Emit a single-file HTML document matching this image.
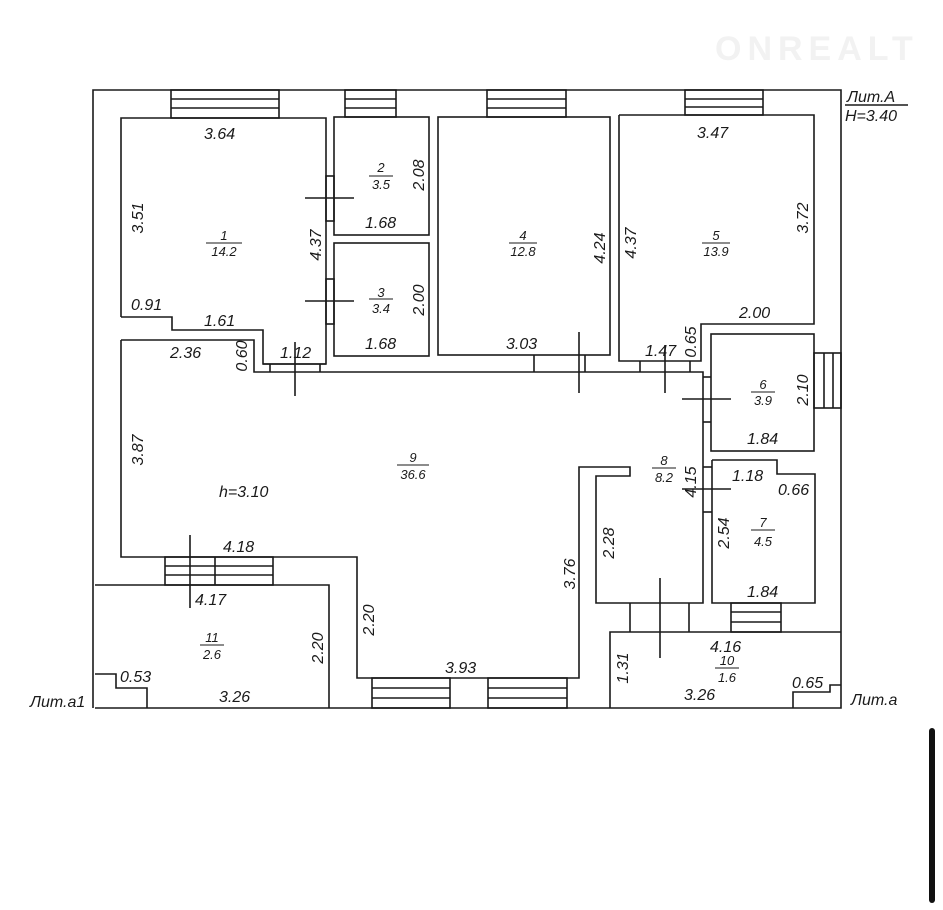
<!DOCTYPE html>
<html><head><meta charset="utf-8"><style>
html,body{margin:0;padding:0;background:#fff}
svg{display:block}
text{font-family:"Liberation Sans","DejaVu Sans",sans-serif;font-style:italic;font-size:16px;fill:#1a1a1a}
.s{font-size:13px}
</style></head><body>
<svg width="943" height="910" viewBox="0 0 943 910" xmlns="http://www.w3.org/2000/svg">
<g fill="none" stroke="#1a1a1a" stroke-width="1.6">
<!-- outer -->
<polyline points="93,708 93,90 841,90 841,708 95,708"/>
<!-- room 1 -->
<polyline points="121,317 121,118 326,118 326,364 263,364 263,330 172,330 172,317 121,317"/>
<!-- window room1 -->
<rect x="171" y="90" width="108" height="28"/><line x1="171" y1="99" x2="279" y2="99"/><line x1="171" y1="108" x2="279" y2="108"/>
<!-- room 2,3 -->
<rect x="334" y="117" width="95" height="118"/>
<rect x="334" y="243" width="95" height="113"/>
<rect x="345" y="90" width="51" height="27"/><line x1="345" y1="99" x2="396" y2="99"/><line x1="345" y1="108" x2="396" y2="108"/>
<!-- doors between 1 and 2/3 -->
<rect x="326" y="176" width="8" height="45"/><rect x="326" y="279" width="8" height="45"/>
<line x1="305" y1="198" x2="354" y2="198"/><line x1="305" y1="301" x2="354" y2="301"/>
<!-- room 4 -->
<rect x="438" y="117" width="172" height="238"/>
<rect x="487" y="90" width="79" height="27"/><line x1="487" y1="99" x2="566" y2="99"/><line x1="487" y1="108" x2="566" y2="108"/>
<!-- room 5 -->
<polyline points="619,115 814,115 814,324 701,324 701,361 619,361 619,115"/>
<rect x="685" y="90" width="78" height="25"/><line x1="685" y1="99" x2="763" y2="99"/><line x1="685" y1="107" x2="763" y2="107"/>
<!-- hall 9 -->
<polyline points="121,340 121,557 357,557 357,678 579,678 579,467 630,467 630,476 596,476 596,603 703,603 703,372 254,372 254,340 121,340"/>
<!-- door 1->hall -->
<line x1="263" y1="364" x2="326" y2="364"/><line x1="270" y1="364" x2="270" y2="372"/><line x1="320" y1="364" x2="320" y2="372"/>
<line x1="295" y1="342" x2="295" y2="396"/>
<!-- door 4 -->
<line x1="534" y1="355" x2="534" y2="372"/><line x1="585" y1="355" x2="585" y2="372"/><line x1="579" y1="332" x2="579" y2="393"/>
<!-- door 5 -->
<line x1="640" y1="361" x2="640" y2="372"/><line x1="690" y1="361" x2="690" y2="372"/><line x1="665" y1="345" x2="665" y2="393"/>
<!-- room 6 -->
<rect x="711" y="334" width="103" height="117"/>
<line x1="703" y1="377" x2="711" y2="377"/><line x1="703" y1="422" x2="711" y2="422"/><line x1="682" y1="399" x2="731" y2="399"/>
<rect x="814" y="353" width="27" height="55"/><line x1="824" y1="353" x2="824" y2="408"/><line x1="833" y1="353" x2="833" y2="408"/>
<!-- room 7 -->
<polyline points="712,460 777,460 777,474 815,474 815,603 712,603 712,460"/>
<line x1="703" y1="467" x2="712" y2="467"/><line x1="703" y1="512" x2="712" y2="512"/><line x1="682" y1="489" x2="731" y2="489"/>
<rect x="731" y="603" width="50" height="29"/><line x1="731" y1="612" x2="781" y2="612"/><line x1="731" y1="622" x2="781" y2="622"/>
<!-- door 8->10 -->
<line x1="630" y1="603" x2="630" y2="632"/><line x1="689" y1="603" x2="689" y2="632"/><line x1="660" y1="578" x2="660" y2="658"/>
<!-- room 10 -->
<polyline points="610,708 610,632 841,632"/>
<polyline points="793,708 793,692 830,692 830,685 841,685"/>
<!-- room 11 -->
<polyline points="95,585 329,585 329,708"/>
<polyline points="95,674 116,674 116,688 147,688 147,708"/>
<rect x="165" y="557" width="108" height="28"/><line x1="215" y1="557" x2="215" y2="585"/><line x1="165" y1="566" x2="273" y2="566"/><line x1="165" y1="575" x2="273" y2="575"/>
<line x1="190" y1="535" x2="190" y2="608"/>
<!-- bottom windows -->
<rect x="372" y="678" width="78" height="30"/><line x1="372" y1="688" x2="450" y2="688"/><line x1="372" y1="698" x2="450" y2="698"/>
<rect x="488" y="678" width="79" height="30"/><line x1="488" y1="688" x2="567" y2="688"/><line x1="488" y1="698" x2="567" y2="698"/>
<!-- lit lines -->
<line x1="845" y1="105" x2="908" y2="105"/>
</g>
<!-- room labels -->
<g text-anchor="middle">
<text x="224" y="240" class="s">1</text><line x1="206" y1="243" x2="242" y2="243" stroke="#1a1a1a"/><text x="224" y="256" class="s">14.2</text>
<text x="381" y="172" class="s">2</text><line x1="369" y1="176" x2="393" y2="176" stroke="#1a1a1a"/><text x="381" y="189" class="s">3.5</text>
<text x="381" y="297" class="s">3</text><line x1="369" y1="299" x2="393" y2="299" stroke="#1a1a1a"/><text x="381" y="313" class="s">3.4</text>
<text x="523" y="240" class="s">4</text><line x1="509" y1="243" x2="537" y2="243" stroke="#1a1a1a"/><text x="523" y="256" class="s">12.8</text>
<text x="716" y="240" class="s">5</text><line x1="702" y1="243" x2="730" y2="243" stroke="#1a1a1a"/><text x="716" y="256" class="s">13.9</text>
<text x="763" y="389" class="s">6</text><line x1="751" y1="392" x2="775" y2="392" stroke="#1a1a1a"/><text x="763" y="405" class="s">3.9</text>
<text x="763" y="527" class="s">7</text><line x1="751" y1="530" x2="775" y2="530" stroke="#1a1a1a"/><text x="763" y="546" class="s">4.5</text>
<text x="664" y="465" class="s">8</text><line x1="652" y1="468" x2="676" y2="468" stroke="#1a1a1a"/><text x="664" y="482" class="s">8.2</text>
<text x="413" y="462" class="s">9</text><line x1="397" y1="465" x2="429" y2="465" stroke="#1a1a1a"/><text x="413" y="479" class="s">36.6</text>
<text x="727" y="665" class="s">10</text><line x1="715" y1="668" x2="739" y2="668" stroke="#1a1a1a"/><text x="727" y="682" class="s">1.6</text>
<text x="212" y="642" class="s">11</text><line x1="200" y1="645" x2="224" y2="645" stroke="#1a1a1a"/><text x="212" y="659" class="s">2.6</text>
</g>
<!-- dims horizontal -->
<g>
<text x="204" y="139">3.64</text>
<text x="365" y="228">1.68</text>
<text x="365" y="349">1.68</text>
<text x="131" y="310">0.91</text>
<text x="204" y="326">1.61</text>
<text x="170" y="358">2.36</text>
<text x="280" y="358">1.12</text>
<text x="506" y="349">3.03</text>
<text x="697" y="138">3.47</text>
<text x="739" y="318">2.00</text>
<text x="645" y="356">1.47</text>
<text x="747" y="444">1.84</text>
<text x="732" y="481">1.18</text>
<text x="778" y="495">0.66</text>
<text x="747" y="597">1.84</text>
<text x="219" y="497">h=3.10</text>
<text x="223" y="552">4.18</text>
<text x="195" y="605">4.17</text>
<text x="120" y="682">0.53</text>
<text x="219" y="702">3.26</text>
<text x="445" y="673">3.93</text>
<text x="710" y="652">4.16</text>
<text x="684" y="700">3.26</text>
<text x="792" y="688">0.65</text>
<text x="847" y="102">Лит.А</text>
<text x="845" y="121">H=3.40</text>
<text x="30" y="707">Лит.а1</text>
<text x="851" y="705">Лит.а</text>
</g>
<!-- dims vertical -->
<g text-anchor="middle">
<text transform="translate(143,218) rotate(-90)">3.51</text>
<text transform="translate(321,245) rotate(-90)">4.37</text>
<text transform="translate(424,175) rotate(-90)">2.08</text>
<text transform="translate(424,300) rotate(-90)">2.00</text>
<text transform="translate(605,248) rotate(-90)">4.24</text>
<text transform="translate(636,243) rotate(-90)">4.37</text>
<text transform="translate(808,218) rotate(-90)">3.72</text>
<text transform="translate(696,342) rotate(-90)">0.65</text>
<text transform="translate(247,356) rotate(-90)">0.60</text>
<text transform="translate(808,390) rotate(-90)">2.10</text>
<text transform="translate(143,450) rotate(-90)">3.87</text>
<text transform="translate(696,482) rotate(-90)">4.15</text>
<text transform="translate(729,533) rotate(-90)">2.54</text>
<text transform="translate(614,543) rotate(-90)">2.28</text>
<text transform="translate(575,574) rotate(-90)">3.76</text>
<text transform="translate(374,620) rotate(-90)">2.20</text>
<text transform="translate(323,648) rotate(-90)">2.20</text>
<text transform="translate(628,668) rotate(-90)">1.31</text>
</g>
<text x="715" y="60" style="font-style:normal;font-weight:bold;font-size:34px;fill:#f2f2f2;letter-spacing:6px">ONREALT</text>
<rect x="929" y="728" width="6" height="175" rx="3" fill="#111"/>
</svg>
</body></html>
